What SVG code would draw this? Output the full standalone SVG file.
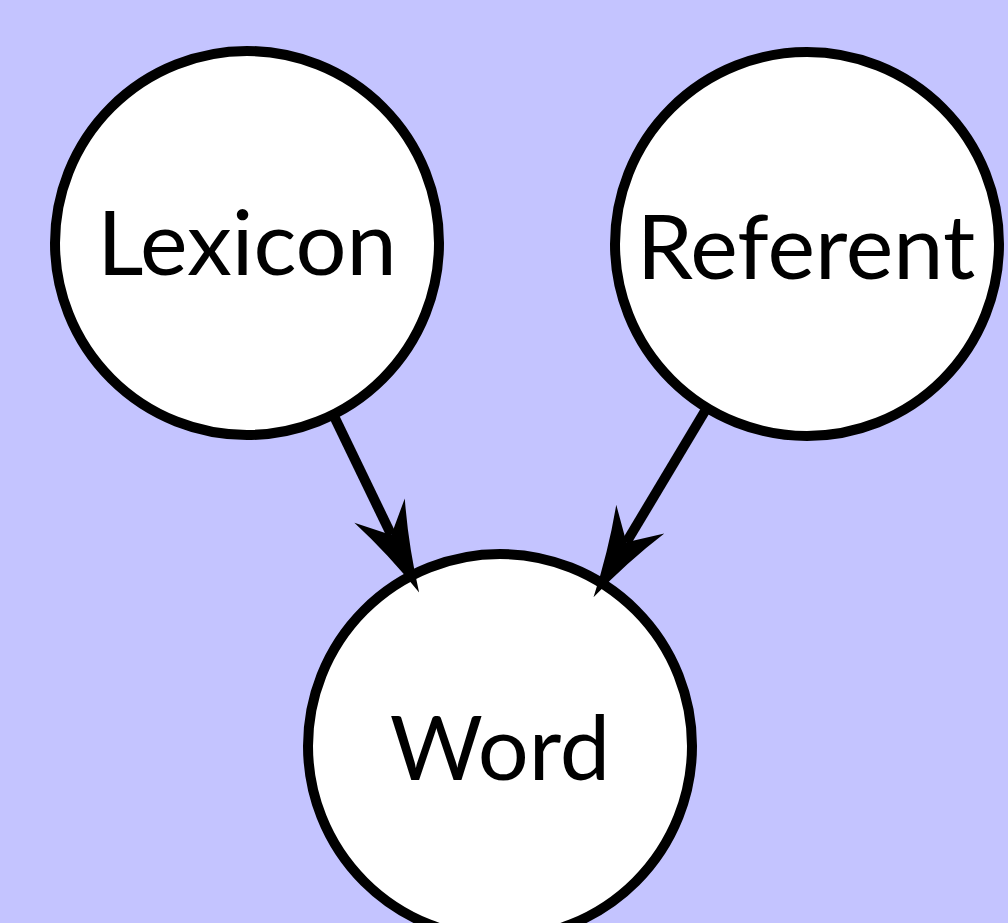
<svg xmlns="http://www.w3.org/2000/svg" width="1008" height="923" viewBox="0 0 1008 923">
  <style>
    .node circle { fill: #ffffff; stroke: #000000; stroke-width: 10; }
    .node text { font-family: Lato, "Open Sans", "DejaVu Sans", sans-serif; font-size: 90px; fill: #000000; text-anchor: middle; }
    .edge { stroke: #000000; stroke-width: 10; fill: none; marker-end: url(#head); }
  </style>
  <defs>
    <!-- stealth-style arrowhead, tip at the origin -->
    <marker id="head" markerUnits="userSpaceOnUse" markerWidth="100" markerHeight="60" refX="-64" refY="0" orient="auto" overflow="visible">
      <path d="M0,0 Q-48,-11 -91,-28 L-64,0 L-91,28 Q-48,11 0,0 Z" fill="#000000"/>
    </marker>
  </defs>
  <rect width="1008" height="923" fill="#c4c4ff"/>

  <g id="lexicon" class="node">
    <circle cx="247" cy="243" r="192"/>
    <text x="247" y="275">Lexicon</text>
  </g>
  <g id="referent" class="node">
    <circle cx="807" cy="244" r="192"/>
    <text x="806" y="279">Referent</text>
  </g>
  <g id="word" class="node">
    <circle cx="500" cy="746" r="192"/>
    <text x="500" y="780">Word</text>
  </g>

  <g id="connectors">
    <path class="edge" d="M333.2,414.5 L391.3,534.9"/>
    <path class="edge" d="M706.8,408 L626.4,542.3"/>
  </g>
</svg>
